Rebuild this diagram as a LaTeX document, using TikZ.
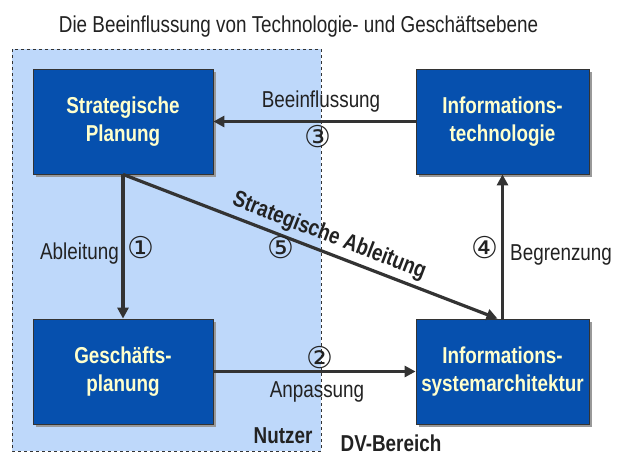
\documentclass[tikz,border=0pt]{standalone}
\usepackage{fontspec}
\setmainfont{Liberation Sans}[FakeStretch=0.82]
\newfontfamily\circfont{DejaVu Sans}
\usetikzlibrary{arrows.meta,shadows,calc}
\definecolor{boxblue}{HTML}{0650AE}
\definecolor{zoneblue}{HTML}{BED8FA}
\definecolor{boxtext}{HTML}{FFFFCC}
\definecolor{linegray}{HTML}{333333}
\definecolor{labeltext}{HTML}{222222}
\begin{document}
\begin{tikzpicture}[x=1pt,y=-1pt,
  procbox/.style={draw=linegray, line width=0.8pt, fill=boxblue, text=boxtext,
    minimum width=180pt, minimum height=105pt, inner sep=0pt, align=center,
    font=\fontsize{23}{28}\selectfont\bfseries,
    drop shadow={shadow xshift=3pt, shadow yshift=-3pt, fill=gray!80, opacity=1}},
  conn/.style={draw=linegray, line width=3.2pt,
    -{Triangle[length=11pt,width=11pt]}},
  lbl/.style={text=labeltext, inner sep=0pt, anchor=base,
    font=\fontsize{23}{25}\selectfont},
  blbl/.style={lbl, font=\fontsize{23}{25}\selectfont\bfseries},
  num/.style={text=labeltext, inner sep=0pt,
    font=\circfont\fontsize{30}{32}\selectfont},
  zone/.style={fill=zoneblue, draw=linegray, line width=0.6pt, dashed}]
\fill[white] (0,0) rectangle (619,466);
\useasboundingbox (0,0) rectangle (619,466);
\draw[zone] (12,49) rectangle (321,451);
\node[lbl] (title) at (298.5,32) {Die Beeinflussung von Technologie- und Geschäftsebene};
\node[procbox] (SP) at (123,121.5) {Strategische\\Planung};
\node[procbox, minimum width=173pt] (IT) at (502.5,121.5) {Informations-\\technologie};
\node[procbox] (GP) at (123,371.5) {Geschäfts-\\planung};
\node[procbox, minimum width=173pt] (ISA) at (502.5,371.5) {Informations-\\systemarchitektur};
\draw[conn] (SP) -- (GP);
\draw[conn] (IT) -- (SP);
\draw[conn] (GP) -- (ISA);
\draw[conn] (ISA) -- (IT);
\draw[conn] (SP.south) -- ([xshift=-5pt]ISA.north)
  node[sloped, above=3pt, pos=0.535, inner sep=1pt, text=labeltext,
    font=\fontsize{23}{25}\selectfont\bfseries] (sa) {Strategische Ableitung};
\node[lbl] (l3) at (321,107) {Beeinflussung};
\node[num] (n3) at (318,137) {③};
\node[lbl, anchor=base east] (l1) at (119,259) {Ableitung};
\node[num] (n1) at (141,248) {①};
\node[num] (n2) at (320,358) {②};
\node[lbl] (l2) at (317,397) {Anpassung};
\node[num] (n4) at (485,248) {④};
\node[lbl, anchor=base west] (l4) at (510,260) {Begrenzung};
\node[num] (n5) at (281,248) {⑤};
\node[blbl] (nutzer) at (283,443) {Nutzer};
\node[blbl] (dv) at (391,451) {DV-Bereich};
\end{tikzpicture}
\end{document}
